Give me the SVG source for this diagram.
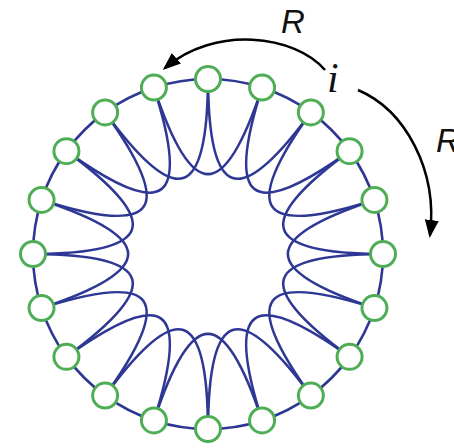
<svg xmlns="http://www.w3.org/2000/svg" width="454" height="448" viewBox="0 0 454 448">
<style>
.ring{fill:none;stroke:#2e3894;stroke-width:2.6}
.chord{fill:none;stroke:#2e3894;stroke-width:2.6}
.node circle{fill:#fff;stroke:#4fae55;stroke-width:3}
.arrow{fill:none;stroke:#000;stroke-width:2.5}
.lbl{font-family:"Liberation Sans",Arial,sans-serif;font-style:italic;font-size:33px;fill:#111}
.idx{font-family:"Liberation Serif","Times New Roman",serif;font-style:italic;font-size:42px;fill:#111}
</style>
<defs>
<marker id="ah" markerUnits="userSpaceOnUse" markerWidth="20" markerHeight="16" refX="15" refY="7" orient="auto">
<path d="M0,0 L18,7 L0,14 z" fill="#000"/>
</marker>
</defs>
<rect width="454" height="448" fill="#fff"/>
<g id="connectors">
<path class="ring" d="M208,79 A175,175 0 0 1 262.08,87.56" transform="rotate(0 208 254)"/>
<path class="ring" d="M208,79 A175,175 0 0 1 262.08,87.56" transform="rotate(18 208 254)"/>
<path class="ring" d="M208,79 A175,175 0 0 1 262.08,87.56" transform="rotate(36 208 254)"/>
<path class="ring" d="M208,79 A175,175 0 0 1 262.08,87.56" transform="rotate(54 208 254)"/>
<path class="ring" d="M208,79 A175,175 0 0 1 262.08,87.56" transform="rotate(72 208 254)"/>
<path class="ring" d="M208,79 A175,175 0 0 1 262.08,87.56" transform="rotate(90 208 254)"/>
<path class="ring" d="M208,79 A175,175 0 0 1 262.08,87.56" transform="rotate(108 208 254)"/>
<path class="ring" d="M208,79 A175,175 0 0 1 262.08,87.56" transform="rotate(126 208 254)"/>
<path class="ring" d="M208,79 A175,175 0 0 1 262.08,87.56" transform="rotate(144 208 254)"/>
<path class="ring" d="M208,79 A175,175 0 0 1 262.08,87.56" transform="rotate(162 208 254)"/>
<path class="ring" d="M208,79 A175,175 0 0 1 262.08,87.56" transform="rotate(180 208 254)"/>
<path class="ring" d="M208,79 A175,175 0 0 1 262.08,87.56" transform="rotate(198 208 254)"/>
<path class="ring" d="M208,79 A175,175 0 0 1 262.08,87.56" transform="rotate(216 208 254)"/>
<path class="ring" d="M208,79 A175,175 0 0 1 262.08,87.56" transform="rotate(234 208 254)"/>
<path class="ring" d="M208,79 A175,175 0 0 1 262.08,87.56" transform="rotate(252 208 254)"/>
<path class="ring" d="M208,79 A175,175 0 0 1 262.08,87.56" transform="rotate(270 208 254)"/>
<path class="ring" d="M208,79 A175,175 0 0 1 262.08,87.56" transform="rotate(288 208 254)"/>
<path class="ring" d="M208,79 A175,175 0 0 1 262.08,87.56" transform="rotate(306 208 254)"/>
<path class="ring" d="M208,79 A175,175 0 0 1 262.08,87.56" transform="rotate(324 208 254)"/>
<path class="ring" d="M208,79 A175,175 0 0 1 262.08,87.56" transform="rotate(342 208 254)"/>
<path class="chord" d="M153.92,87.56 C192,203 224,203 262.08,87.56" transform="rotate(0 208 254)"/>
<path class="chord" d="M153.92,87.56 C192,203 224,203 262.08,87.56" transform="rotate(18 208 254)"/>
<path class="chord" d="M153.92,87.56 C192,203 224,203 262.08,87.56" transform="rotate(36 208 254)"/>
<path class="chord" d="M153.92,87.56 C192,203 224,203 262.08,87.56" transform="rotate(54 208 254)"/>
<path class="chord" d="M153.92,87.56 C192,203 224,203 262.08,87.56" transform="rotate(72 208 254)"/>
<path class="chord" d="M153.92,87.56 C192,203 224,203 262.08,87.56" transform="rotate(90 208 254)"/>
<path class="chord" d="M153.92,87.56 C192,203 224,203 262.08,87.56" transform="rotate(108 208 254)"/>
<path class="chord" d="M153.92,87.56 C192,203 224,203 262.08,87.56" transform="rotate(126 208 254)"/>
<path class="chord" d="M153.92,87.56 C192,203 224,203 262.08,87.56" transform="rotate(144 208 254)"/>
<path class="chord" d="M153.92,87.56 C192,203 224,203 262.08,87.56" transform="rotate(162 208 254)"/>
<path class="chord" d="M153.92,87.56 C192,203 224,203 262.08,87.56" transform="rotate(180 208 254)"/>
<path class="chord" d="M153.92,87.56 C192,203 224,203 262.08,87.56" transform="rotate(198 208 254)"/>
<path class="chord" d="M153.92,87.56 C192,203 224,203 262.08,87.56" transform="rotate(216 208 254)"/>
<path class="chord" d="M153.92,87.56 C192,203 224,203 262.08,87.56" transform="rotate(234 208 254)"/>
<path class="chord" d="M153.92,87.56 C192,203 224,203 262.08,87.56" transform="rotate(252 208 254)"/>
<path class="chord" d="M153.92,87.56 C192,203 224,203 262.08,87.56" transform="rotate(270 208 254)"/>
<path class="chord" d="M153.92,87.56 C192,203 224,203 262.08,87.56" transform="rotate(288 208 254)"/>
<path class="chord" d="M153.92,87.56 C192,203 224,203 262.08,87.56" transform="rotate(306 208 254)"/>
<path class="chord" d="M153.92,87.56 C192,203 224,203 262.08,87.56" transform="rotate(324 208 254)"/>
<path class="chord" d="M153.92,87.56 C192,203 224,203 262.08,87.56" transform="rotate(342 208 254)"/>
<path class="arrow" d="M325,70 C295,35 215,25 165,68" marker-end="url(#ah)"/>
<path class="arrow" d="M358,90 C405,110 438,170 430,235" marker-end="url(#ah)"/>
</g>
<g id="n0" class="node"><circle cx="208" cy="79" r="12.5"/></g>
<g id="n1" class="node"><circle cx="262.08" cy="87.56" r="12.5"/></g>
<g id="n2" class="node"><circle cx="310.86" cy="112.43" r="12.5"/></g>
<g id="n3" class="node"><circle cx="349.58" cy="151.14" r="12.5"/></g>
<g id="n4" class="node"><circle cx="374.44" cy="199.92" r="12.5"/></g>
<g id="n5" class="node"><circle cx="383" cy="254" r="12.5"/></g>
<g id="n6" class="node"><circle cx="374.44" cy="308.08" r="12.5"/></g>
<g id="n7" class="node"><circle cx="349.58" cy="356.86" r="12.5"/></g>
<g id="n8" class="node"><circle cx="310.86" cy="395.57" r="12.5"/></g>
<g id="n9" class="node"><circle cx="262.08" cy="420.44" r="12.5"/></g>
<g id="n10" class="node"><circle cx="208" cy="429" r="12.5"/></g>
<g id="n11" class="node"><circle cx="153.92" cy="420.44" r="12.5"/></g>
<g id="n12" class="node"><circle cx="105.14" cy="395.57" r="12.5"/></g>
<g id="n13" class="node"><circle cx="66.42" cy="356.86" r="12.5"/></g>
<g id="n14" class="node"><circle cx="41.56" cy="308.08" r="12.5"/></g>
<g id="n15" class="node"><circle cx="33" cy="254" r="12.5"/></g>
<g id="n16" class="node"><circle cx="41.56" cy="199.92" r="12.5"/></g>
<g id="n17" class="node"><circle cx="66.42" cy="151.14" r="12.5"/></g>
<g id="n18" class="node"><circle cx="105.14" cy="112.43" r="12.5"/></g>
<g id="n19" class="node"><circle cx="153.92" cy="87.56" r="12.5"/></g>
<g id="labels">
<text class="lbl" x="281" y="33">R</text>
<text class="idx" x="327" y="92">i</text>
<text class="lbl" x="436" y="152">R</text>
</g>
</svg>
